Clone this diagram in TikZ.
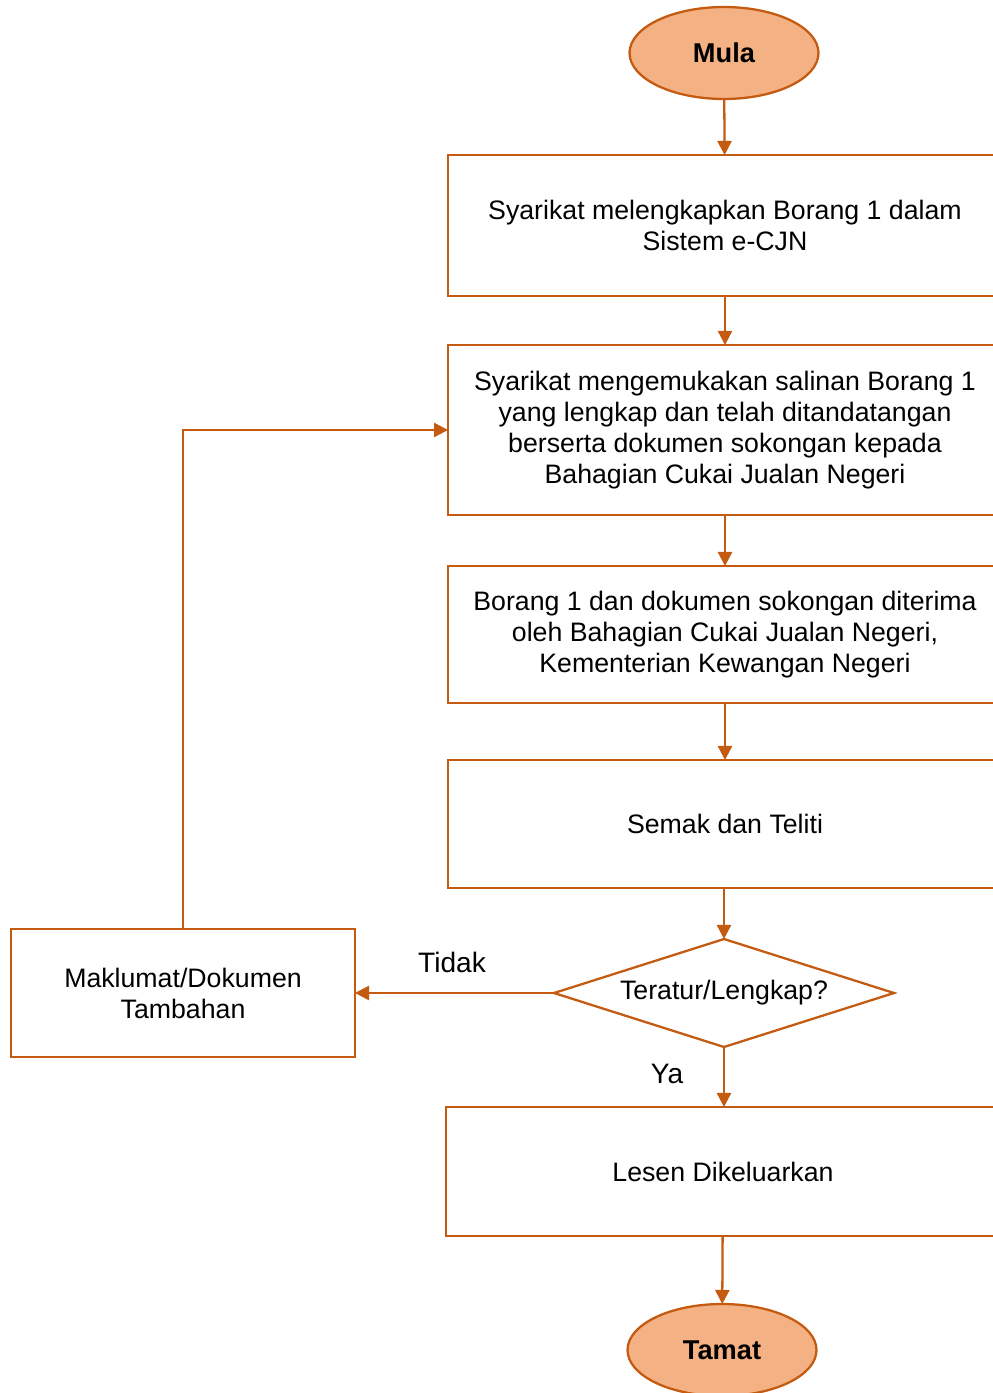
\documentclass[tikz,border=0pt]{standalone}
\usepackage{fontspec}
\setmainfont{Liberation Sans}
\usetikzlibrary{shapes.geometric,arrows.meta}
\definecolor{jingga}{HTML}{C55A11}
\definecolor{pic}{HTML}{F4B183}

\begin{document}
\begin{tikzpicture}[x=0.02cm, y=-0.02cm,
  proses/.style={draw=jingga, line width=1.3pt, rectangle, align=center,
    inner sep=0pt, outer sep=0pt, font=\fontsize{15.2}{17.6}\selectfont},
  terminal/.style={draw=jingga, fill=pic, line width=1.3pt, ellipse,
    minimum width=3.78cm, minimum height=1.84cm, inner sep=0pt, outer sep=0pt,
    font=\fontsize{15.5}{18}\selectfont\bfseries},
  keputusan/.style={draw=jingga, line width=1.3pt, diamond, aspect=3.15,
    minimum width=6.8cm, minimum height=2.16cm, inner sep=0pt, outer sep=0pt,
    font=\fontsize{15.2}{17.6}\selectfont},
  panah/.style={draw=jingga, line width=1.3pt, -{Triangle[length=8pt,width=8pt]}},
  label/.style={font=\fontsize{16}{19}\selectfont}]

\useasboundingbox (0,0) rectangle (993,1393);
\clip (0,0) rectangle (993,1393);

% Mula
\node[terminal] (mula) at (724,53) {Mula};

% Borang 1
\node[proses, minimum width=11.08cm, minimum height=2.82cm] (borang) at (725,225.5)
  {Syarikat melengkapkan Borang 1 dalam\\Sistem e-CJN};

% Salinan
\node[proses, minimum width=11.08cm, minimum height=3.4cm] (salinan) at (725,430)
  {Syarikat mengemukakan salinan Borang 1\\yang lengkap dan telah ditandatangan\\berserta dokumen sokongan kepada\\Bahagian Cukai Jualan Negeri};

% Diterima
\node[proses, minimum width=11.08cm, minimum height=2.74cm] (terima) at (725,634.5)
  {Borang 1 dan dokumen sokongan diterima\\oleh Bahagian Cukai Jualan Negeri,\\Kementerian Kewangan Negeri};

% Semak
\node[proses, minimum width=11.08cm, minimum height=2.56cm] (semak) at (725,824)
  {Semak dan Teliti};

% Keputusan
\node[keputusan] (teratur) at (724,993) {Teratur/Lengkap?};

% Maklumat tambahan
\node[proses, minimum width=6.88cm, minimum height=2.56cm] (tambahan) at (183,993)
  {Maklumat/Dokumen\\Tambahan};

% Lesen
\node[proses, minimum width=11.08cm, minimum height=2.58cm] (lesen) at (723,1171.5)
  {Lesen Dikeluarkan};

% Tamat
\node[terminal] (tamat) at (722,1350) {Tamat};

% Label
\node[label] (tidak) at (452,962) {Tidak};
\node[label] (ya) at (667,1074) {Ya};

% Anak panah
\draw[panah] (mula) -- (borang);
\draw[panah] (borang) -- (salinan);
\draw[panah] (salinan) -- (terima);
\draw[panah] (terima) -- (semak);
\draw[panah] (semak.south -| teratur.north) -- (teratur.north);
\draw[panah] (teratur.west) -- (tambahan.east);
\draw[panah] (teratur.south) -- (teratur.south |- lesen.north);
\draw[panah] (tambahan.north) |- (salinan.west);
\draw[panah] (lesen) -- (tamat);

\end{tikzpicture}
\end{document}
